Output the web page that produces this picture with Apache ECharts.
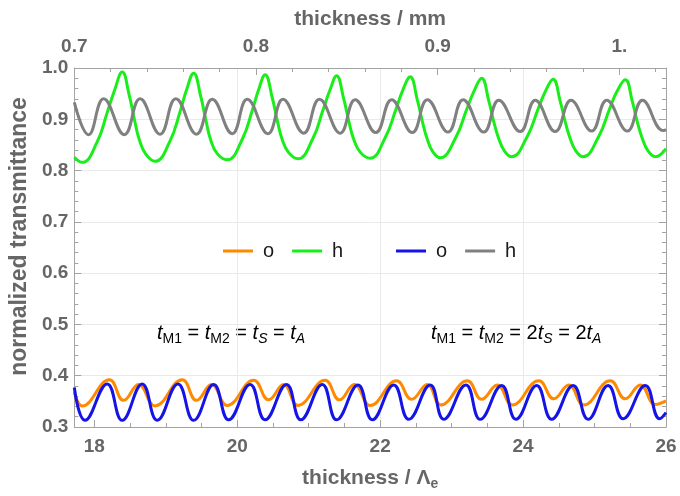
<!DOCTYPE html>
<html>
<head>
<meta charset="utf-8">
<script src="https://cdn.jsdelivr.net/npm/echarts@6/dist/echarts.min.js"></script>
<style>
html,body{margin:0;padding:0;background:#fff;}
#chart{width:680px;height:496px;}
</style>
</head>
<body>
<div id="chart"></div>
<script>
// ---- tick values and labels ----
const yTickLabels = ['0.3','0.4','0.5','0.6','0.7','0.8','0.9','1.0'];
const bottomTicks = [18, 20, 22, 24, 26];
const bottomTickLabels = ['18', '20', '22', '24', '26'];
const bottomGridTicks = [20, 22, 24];
const bottomEdgeTicks = [18, 26];
const bottomMinorTicks = [18.5, 19, 19.5, 20.5, 21, 21.5, 22.5, 23, 23.5, 24.5, 25, 25.5];
const topTicks = [0.7, 0.8, 0.9, 1.0];
const topTickLabels = ['0.7', '0.8', '0.9', '1.'];
const topMinorTicks = [0.72, 0.74, 0.76, 0.78, 0.82, 0.84, 0.86, 0.88, 0.92, 0.94, 0.96, 0.98, 1.02];

// ---- series values: [thickness / Λe, normalized transmittance] ----
// case 1 (t_M1 = t_M2 = t_S = t_A): o (orange), h (green)
const oCase1 = [
  [17.72,0.368],[17.83,0.341],[18.21,0.392],[18.41,0.352],[18.62,0.383],
  [18.85,0.341],[19.23,0.392],[19.43,0.352],[19.64,0.383],
  [19.86,0.342],[20.23,0.391],[20.44,0.353],[20.65,0.383],
  [20.85,0.342],[21.23,0.391],[21.43,0.353],[21.64,0.383],
  [21.86,0.342],[22.23,0.390],[22.44,0.354],[22.66,0.383],
  [22.85,0.343],[23.22,0.390],[23.42,0.354],[23.64,0.382],
  [23.85,0.343],[24.22,0.390],[24.43,0.355],[24.64,0.382],
  [24.85,0.343],[25.22,0.390],[25.43,0.355],[25.64,0.382],
  [25.85,0.344],[26.00,0.351]
];
const hCase1 = [
  [17.72,0.826],[17.83,0.816],[18.04,0.856],[18.18,0.913],[18.28,0.955],[18.39,0.992],
  [18.49,0.946],[18.56,0.900],[18.63,0.860],[18.72,0.832],
  [18.85,0.818],[19.06,0.858],[19.20,0.915],[19.29,0.957],[19.39,0.990],
  [19.49,0.944],[19.56,0.899],[19.63,0.859],[19.72,0.833],
  [19.86,0.821],[20.07,0.861],[20.21,0.917],[20.30,0.958],[20.39,0.987],
  [20.49,0.942],[20.56,0.898],[20.63,0.860],[20.72,0.835],
  [20.85,0.823],[21.06,0.863],[21.20,0.918],[21.30,0.958],[21.39,0.985],
  [21.49,0.940],[21.56,0.897],[21.63,0.861],[21.72,0.836],
  [21.86,0.824],[22.07,0.864],[22.22,0.919],[22.32,0.958],[22.42,0.983],
  [22.52,0.938],[22.59,0.896],[22.66,0.861],[22.74,0.836],
  [22.84,0.825],[23.06,0.865],[23.21,0.919],[23.32,0.957],[23.42,0.980],
  [23.52,0.936],[23.59,0.895],[23.66,0.862],[23.74,0.838],
  [23.84,0.827],[24.06,0.867],[24.21,0.920],[24.32,0.957],[24.42,0.978],
  [24.52,0.935],[24.59,0.895],[24.66,0.862],[24.74,0.838],
  [24.84,0.827],[25.06,0.867],[25.21,0.920],[25.32,0.956],[25.43,0.977],
  [25.53,0.934],[25.60,0.894],[25.67,0.862],[25.75,0.838],
  [25.85,0.827],[26.00,0.843]
];
// case 2 (t_M1 = t_M2 = 2t_S = 2t_A): o (blue), h (gray)
const oCase2 = [
  [17.72,0.377],[17.87,0.313],[18.18,0.384],[18.39,0.313],[18.67,0.384],
  [18.88,0.313],[19.17,0.384],[19.39,0.313],[19.67,0.383],[19.88,0.314],
  [20.18,0.383],[20.39,0.314],[20.69,0.383],[20.89,0.314],[21.19,0.383],
  [21.39,0.314],[21.69,0.382],[21.89,0.314],[22.19,0.382],[22.40,0.315],
  [22.70,0.382],[22.89,0.315],[23.20,0.382],[23.40,0.315],[23.70,0.381],
  [23.90,0.315],[24.19,0.381],[24.40,0.315],[24.70,0.381],[24.91,0.315],
  [25.19,0.381],[25.40,0.316],[25.71,0.381],[25.91,0.316],[26.00,0.328]
];
const hCase2 = [
  [17.72,0.933],[17.92,0.870],[18.13,0.940],[18.42,0.870],[18.64,0.940],
  [18.92,0.871],[19.14,0.940],[19.43,0.871],[19.65,0.939],[19.93,0.872],
  [20.14,0.939],[20.43,0.872],[20.64,0.939],[20.93,0.873],[21.15,0.939],
  [21.44,0.873],[21.65,0.938],[21.94,0.874],[22.16,0.938],[22.45,0.874],
  [22.66,0.938],[22.95,0.875],[23.16,0.938],[23.45,0.875],[23.66,0.937],
  [23.96,0.876],[24.17,0.937],[24.45,0.876],[24.67,0.937],[24.96,0.877],
  [25.17,0.937],[25.46,0.877],[25.67,0.937],[25.96,0.878],[26.00,0.880]
];

const seriesNames = ['o1', 'h1', 'o2', 'h2'];
const seriesColors = ['#ff8a00', '#1aee1a', '#1414e6', '#808080'];

const FONT = '"Liberation Sans", Arial, sans-serif';
const AXIS_GRAY = '#a3a3a3';
const LABEL_GRAY = '#666666';
const GRID_GRAY = '#e9e9e9';

const chart = echarts.init(document.getElementById('chart'), null, {renderer: 'canvas'});

function mkLine(name, data, color) {
  return {
    name: name, type: 'line', data: data, xAxisIndex: 0, yAxisIndex: 0,
    showSymbol: false, symbol: 'none', smooth: 0.45,
    lineStyle: {color: color, width: 3}, itemStyle: {color: color},
    emphasis: {disabled: true}, z: 3
  };
}

const tickFont = {fontFamily: FONT, fontSize: 19, fontWeight: 'bold', color: LABEL_GRAY};
const nameRich = {
  a: {fontFamily: FONT, fontSize: 21, fontWeight: 'bold', color: LABEL_GRAY, lineHeight: 25},
  b: {fontFamily: FONT, fontSize: 14, fontWeight: 'bold', color: LABEL_GRAY, lineHeight: 14, verticalAlign: 'bottom'}
};

const annRich = {
  i: {fontFamily: FONT, fontSize: 20, fontStyle: 'italic', color: '#111', lineHeight: 26},
  n: {fontFamily: FONT, fontSize: 20, color: '#111', lineHeight: 26},
  s: {fontFamily: FONT, fontSize: 14, color: '#111', lineHeight: 14, verticalAlign: 'bottom'},
  si: {fontFamily: FONT, fontSize: 14, fontStyle: 'italic', color: '#111', lineHeight: 14, verticalAlign: 'bottom'}
};

const legendCommon = {
  orient: 'horizontal', top: 241, padding: 0, itemWidth: 30, itemHeight: 3, itemGap: 18,
  icon: 'rect', formatter: function (n) { return n.charAt(0); },
  textStyle: {fontFamily: FONT, fontSize: 20, color: '#1a1a1a', padding: [0, 0, 0, 5]},
  selectedMode: false
};

function tickAxis(position, min, max, values, length) {
  return {
    type: 'value', position: position, min: min, max: max,
    axisLine: {show: false, onZero: false},
    axisTick: {show: true, inside: true, length: length, customValues: values, lineStyle: {color: AXIS_GRAY}},
    axisLabel: {show: false},
    splitLine: {show: false}
  };
}

const option = {
  animation: false,
  backgroundColor: '#ffffff',
  grid: {left: 73, right: 14, top: 68, bottom: 62, containLabel: false},
  legend: [
    Object.assign({}, legendCommon, {left: 223, data: [seriesNames[0], seriesNames[1]]}),
    Object.assign({}, legendCommon, {left: 396, data: [seriesNames[2], seriesNames[3]]})
  ],
  xAxis: [
    { // bottom: labels, inner major ticks + grid lines
      type: 'value', position: 'bottom', min: 17.72, max: 26,
      name: '{a|thickness / Λ}{b|e}', nameLocation: 'middle', nameGap: 39,
      nameTextStyle: {rich: nameRich},
      axisLine: {show: true, onZero: false, lineStyle: {color: AXIS_GRAY, width: 1}},
      axisTick: {show: true, inside: true, length: 7, customValues: bottomGridTicks, lineStyle: {color: AXIS_GRAY}},
      axisLabel: Object.assign({customValues: bottomTicks, margin: 10,
        formatter: function (v) { return bottomTickLabels[bottomTicks.indexOf(v)]; }}, tickFont),
      splitLine: {show: true, lineStyle: {color: GRID_GRAY, width: 1}}
    },
    tickAxis('bottom', 17.72, 26, bottomMinorTicks, 4),
    { // top major
      type: 'value', position: 'top', min: 0.7, max: 1.0257,
      name: 'thickness / mm', nameLocation: 'middle', nameGap: 38,
      nameTextStyle: {fontFamily: FONT, fontSize: 21, fontWeight: 'bold', color: LABEL_GRAY},
      axisLine: {show: true, onZero: false, lineStyle: {color: AXIS_GRAY, width: 1}},
      axisTick: {show: true, inside: true, length: 7, customValues: topTicks, lineStyle: {color: AXIS_GRAY}},
      axisLabel: Object.assign({customValues: topTicks, margin: 12,
        formatter: function (v) { return topTickLabels[topTicks.indexOf(v)]; }}, tickFont),
      splitLine: {show: false}
    },
    tickAxis('top', 0.7, 1.0257, topMinorTicks, 4),
    tickAxis('bottom', 17.72, 26, bottomEdgeTicks, 7)
  ],
  yAxis: [
    {
      type: 'value', position: 'left', min: 0.3, max: 1.0, interval: 0.1,
      name: 'normalized transmittance', nameLocation: 'middle', nameGap: 40,
      nameTextStyle: {fontFamily: FONT, fontSize: 23, fontWeight: 'bold', color: LABEL_GRAY, padding: [0, 0, 0, 22]},
      axisLine: {show: true, onZero: false, lineStyle: {color: AXIS_GRAY, width: 1}},
      axisTick: {show: true, inside: true, length: 7, lineStyle: {color: AXIS_GRAY}},
      minorTick: {show: true, splitNumber: 5, length: 4, lineStyle: {color: AXIS_GRAY}},
      axisLabel: Object.assign({margin: 6,
        formatter: function (v) { return yTickLabels[Math.round((v - 0.3) / 0.1)]; }}, tickFont),
      splitLine: {show: true, lineStyle: {color: GRID_GRAY, width: 1}}
    },
    {
      type: 'value', position: 'right', min: 0.3, max: 1.0, interval: 0.1,
      axisLine: {show: true, onZero: false, lineStyle: {color: AXIS_GRAY, width: 1}},
      axisTick: {show: true, inside: true, length: 7, lineStyle: {color: AXIS_GRAY}},
      minorTick: {show: true, splitNumber: 5, length: 4, lineStyle: {color: AXIS_GRAY}},
      axisLabel: {show: false},
      splitLine: {show: false}
    }
  ],
  graphic: [
    {
      type: 'text', left: 157, top: 323, silent: true,
      style: {
        text: '{i|t}{s|M1}{n| = }{i|t}{s|M2}{n| = }{i|t}{si|S}{n| = }{i|t}{si|A}',
        rich: annRich
      }
    },
    {
      type: 'text', left: 431, top: 323, silent: true,
      style: {
        text: '{i|t}{s|M1}{n| = }{i|t}{s|M2}{n| = 2}{i|t}{si|S}{n| = 2}{i|t}{si|A}',
        rich: annRich
      }
    }
  ],
  series: [
    mkLine(seriesNames[0], oCase1, seriesColors[0]),
    mkLine(seriesNames[1], hCase1, seriesColors[1]),
    mkLine(seriesNames[2], oCase2, seriesColors[2]),
    mkLine(seriesNames[3], hCase2, seriesColors[3])
  ]
};

chart.setOption(option);
</script>
</body>
</html>
